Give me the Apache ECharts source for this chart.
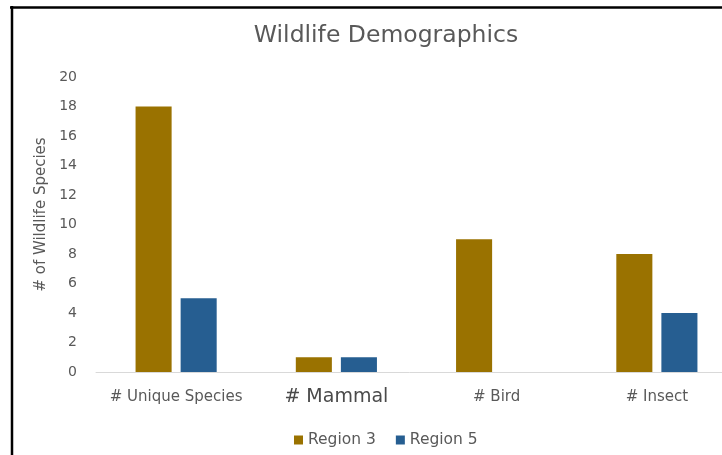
<!DOCTYPE html>
<html>
<head>
<meta charset="utf-8">
<style>
  html, body { margin: 0; padding: 0; background: #fff; }
  #chart { width: 722px; height: 455px; }
</style>
<script src="https://cdn.jsdelivr.net/npm/echarts@6/dist/echarts.min.js"></script>
</head>
<body>
<div id="chart"></div>
<script>
// Species counts per survey region
const categories = ['# Unique Species', '# Mammal', '# Bird', '# Insect'];
const region3 = [18, 1, 9, 8];
const region5 = [5, 1, 0, 4];
const seriesNames = ['Region 3', 'Region 5'];
const yTicks = { min: 0, max: 20, interval: 2 };

const FONT = '"DejaVu Sans", sans-serif';
const GREY = '#595959';

const chart = echarts.init(document.getElementById('chart'), null, { renderer: 'canvas' });

chart.setOption({
  backgroundColor: '#ffffff',
  animation: false,
  title: {
    text: 'Wildlife Demographics',
    left: 381,
    textAlign: 'center',
    top: 19,
    textStyle: { fontFamily: FONT, fontSize: 23.5, fontWeight: 'normal', color: GREY }
  },
  legend: {
    data: seriesNames,
    left: 294,
    top: 432,
    padding: 0,
    itemWidth: 9,
    itemHeight: 9,
    itemGap: 20,
    icon: 'rect',
    textStyle: { fontFamily: FONT, fontSize: 15.5, color: GREY }
  },
  grid: { left: 96, top: 77, width: 641, height: 295, outerBoundsMode: 'none', containLabel: false },
  xAxis: {
    type: 'category',
    data: categories.map(c => c === '# Mammal'
      ? { value: c, textStyle: { fontSize: 19, lineHeight: 20, color: '#4a4a4a' } }
      : c),
    axisLine: { lineStyle: { color: '#d9d9d9', width: 1 } },
    axisTick: { show: false },
    axisLabel: { fontFamily: FONT, fontSize: 15, lineHeight: 20, color: GREY, margin: 15, interval: 0 }
  },
  yAxis: {
    type: 'value',
    min: yTicks.min,
    max: yTicks.max,
    interval: yTicks.interval,
    name: '# of Wildlife Species',
    nameLocation: 'middle',
    nameRotate: 90,
    nameGap: 47,
    nameTextStyle: { fontFamily: FONT, fontSize: 15, color: GREY, padding: [0, 0, 0, 20] },
    axisLine: { show: false },
    axisTick: { show: false },
    splitLine: { show: false },
    axisLabel: { fontFamily: FONT, fontSize: 14, color: GREY, margin: 19 }
  },
  series: [
    {
      name: seriesNames[0],
      type: 'bar',
      data: region3,
      barWidth: '22.5%',
      barGap: '25%',
      itemStyle: { color: '#9a7200' }
    },
    {
      name: seriesNames[1],
      type: 'bar',
      data: region5,
      barWidth: '22.5%',
      barGap: '25%',
      itemStyle: { color: '#265e91' }
    }
  ],
  graphic: [
    // frame edges along the top and left
    { type: 'line', shape: { x1: 10, y1: 7.5, x2: 722, y2: 7.5 }, style: { stroke: '#000', lineWidth: 2.5 } },
    { type: 'line', shape: { x1: 12, y1: 6, x2: 12, y2: 455 }, style: { stroke: '#000', lineWidth: 2.5 } }
  ]
});
</script>
</body>
</html>
